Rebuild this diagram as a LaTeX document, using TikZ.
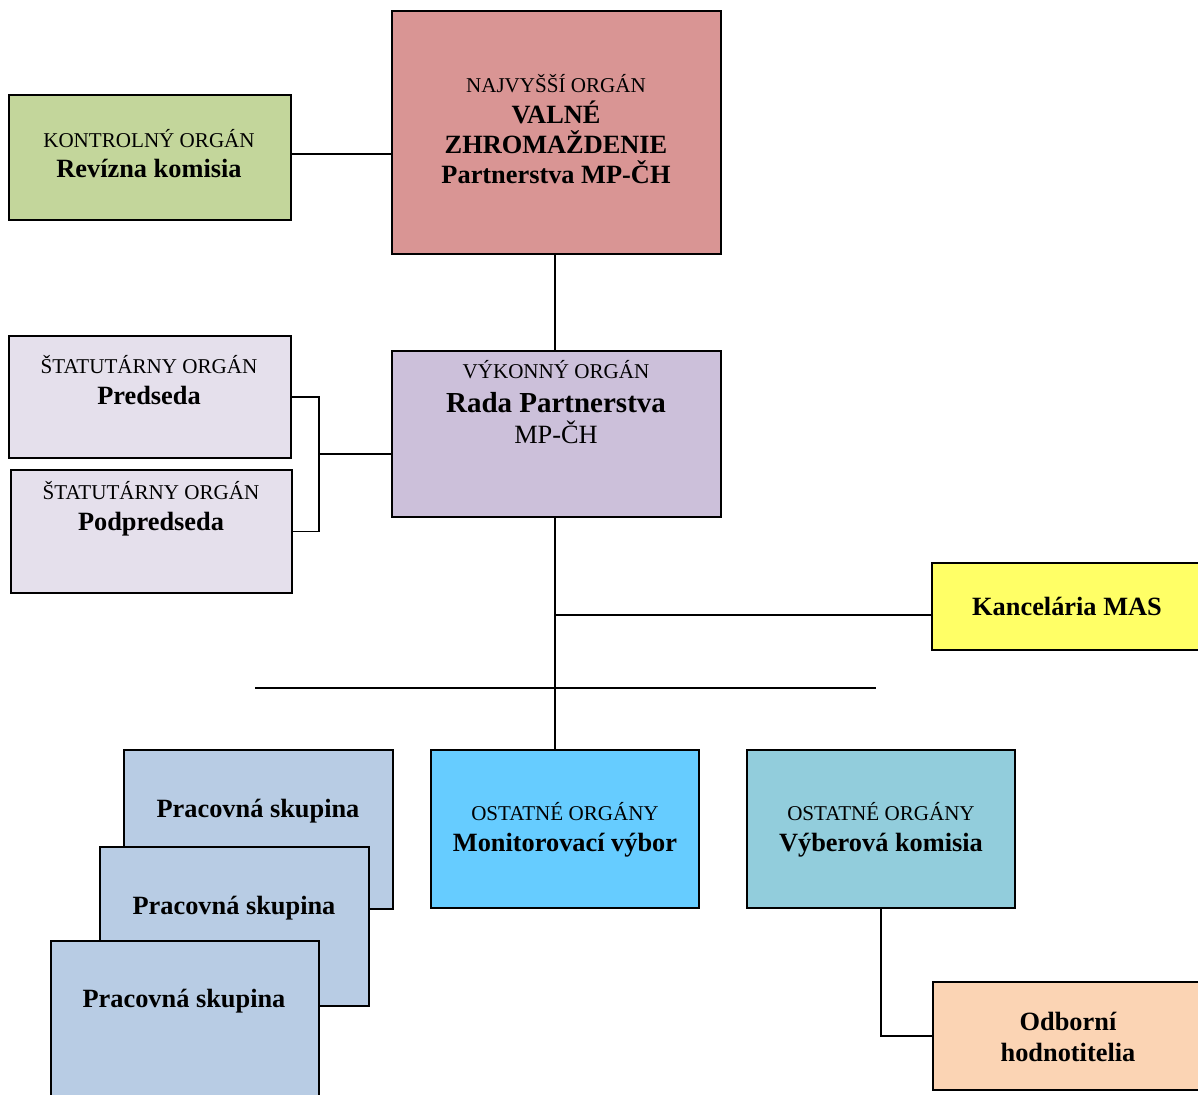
\documentclass[tikz,border=0pt]{standalone}
\usepackage{fontspec}
\setmainfont{Liberation Serif}
\usetikzlibrary{positioning}

\definecolor{revgreen}{HTML}{C3D69B}
\definecolor{valnered}{HTML}{D99594}
\definecolor{statlila}{HTML}{E5E0EC}
\definecolor{radalila}{HTML}{CCC0DA}
\definecolor{kancyellow}{HTML}{FFFF66}
\definecolor{pracblue}{HTML}{B8CCE4}
\definecolor{monblue}{HTML}{66CCFF}
\definecolor{vybteal}{HTML}{92CDDC}
\definecolor{odbpeach}{HTML}{FBD4B4}

\newcommand{\orgkind}[1]{{\mdseries\fontsize{12}{14}\selectfont #1}}

\tikzset{
  orgbox/.style={draw=black, line width=1.1pt, inner sep=0pt, minimum width=5.36cm, minimum height=3.16cm},
  orgtext/.style={align=center, anchor=base, inner sep=0pt, font=\fontsize{15}{17.3}\selectfont\bfseries},
  link/.style={line width=1.1pt}
}

\begin{document}
\begin{tikzpicture}[x=0.02cm, y=-0.02cm]
    \useasboundingbox (0,0) rectangle (1198,1095);

    % boxes
    \node[orgbox, fill=revgreen, minimum width=5.64cm, minimum height=2.5cm] (rev) at (150,157.5) {};
    \node[orgbox, fill=valnered, minimum width=6.58cm, minimum height=4.86cm] (valne) at (556.5,132.5) {};
    \node[orgbox, fill=statlila, minimum width=5.64cm, minimum height=2.44cm] (pred) at (150,397) {};
    \node[orgbox, fill=statlila, minimum width=5.62cm, minimum height=2.46cm] (podp) at (151.5,531.5) {};
    \node[orgbox, fill=radalila, minimum width=6.58cm, minimum height=3.32cm] (rada) at (556.5,434) {};
    \node[orgbox, fill=kancyellow, minimum width=5.42cm, minimum height=1.74cm] (kanc) at (1067.5,606.5) {};
    \node[orgbox, fill=pracblue, minimum width=5.38cm, minimum height=3.18cm] (prac1) at (258.5,829.5) {};
    \node[orgbox, fill=pracblue, minimum width=5.38cm, minimum height=3.18cm] (prac2) at (234.5,926.5) {};
    \node[orgbox, fill=pracblue, minimum width=5.36cm, minimum height=3.38cm] (prac3) at (185,1025.5) {};
    \node[orgbox, fill=monblue] (mon) at (565,829) {};
    \node[orgbox, fill=vybteal] (vyb) at (881,829) {};
    \node[orgbox, fill=odbpeach, minimum width=5.4cm, minimum height=2.16cm] (odb) at (1068,1036) {};

    % connectors
    \coordinate (revout) at (291,154);
    \coordinate (brk) at (319,454);
    \coordinate (kancin) at (555,615);
    \coordinate (barL) at (255,688);
    \coordinate (barR) at (876,688);

    \draw[link] (revout) -- (revout -| valne.west);
    \draw[link] (valne.south -| kancin) -- (rada.north -| kancin);
    \draw[link] (pred.east) -| (brk) |- (podp.east);
    \draw[link] (brk) -- (brk -| rada.west);
    \draw[link] (rada.south -| kancin) -- (mon.north -| kancin);
    \draw[link] (kancin) -- (kancin -| kanc.west);
    \draw[link] (barL) -- (barR);
    \draw[link] (vyb.south) |- (odb.west);

    % texts (anchored on the baseline of the last line)
    \node[orgtext] (revtxt) at (149,178) {\orgkind{KONTROLNÝ ORGÁN}\\Revízna komisia};
    \node[orgtext] (valnetxt) at (556,184) {\orgkind{NAJVYŠŠÍ ORGÁN}\\VALNÉ\\ZHROMAŽDENIE\\Partnerstva MP-ČH};
    \node[orgtext] (predtxt) at (149,404) {\orgkind{ŠTATUTÁRNY ORGÁN}\\Predseda};
    \node[orgtext] (podptxt) at (151,530) {\orgkind{ŠTATUTÁRNY ORGÁN}\\Podpredseda};
    \node[orgtext] (radatxt) at (556,443) {\orgkind{VÝKONNÝ ORGÁN}\\[2pt]{\fontsize{16.5}{19}\selectfont Rada Partnerstva}\\\mdseries MP-ČH};
    \node[orgtext] (kanctxt) at (1067,615) {Kancelária MAS};
    \node[orgtext] (prac1txt) at (258,817) {Pracovná skupina};
    \node[orgtext] (prac2txt) at (234,914) {Pracovná skupina};
    \node[orgtext] (prac3txt) at (184,1007) {Pracovná skupina};
    \node[orgtext] (montxt) at (565,851) {\orgkind{OSTATNÉ ORGÁNY}\\Monitorovací výbor};
    \node[orgtext] (vybtxt) at (881,851) {\orgkind{OSTATNÉ ORGÁNY}\\Výberová komisia};
    \node[orgtext] (odbtxt) at (1068,1061) {Odborní\\hodnotitelia};
\end{tikzpicture}
\end{document}
